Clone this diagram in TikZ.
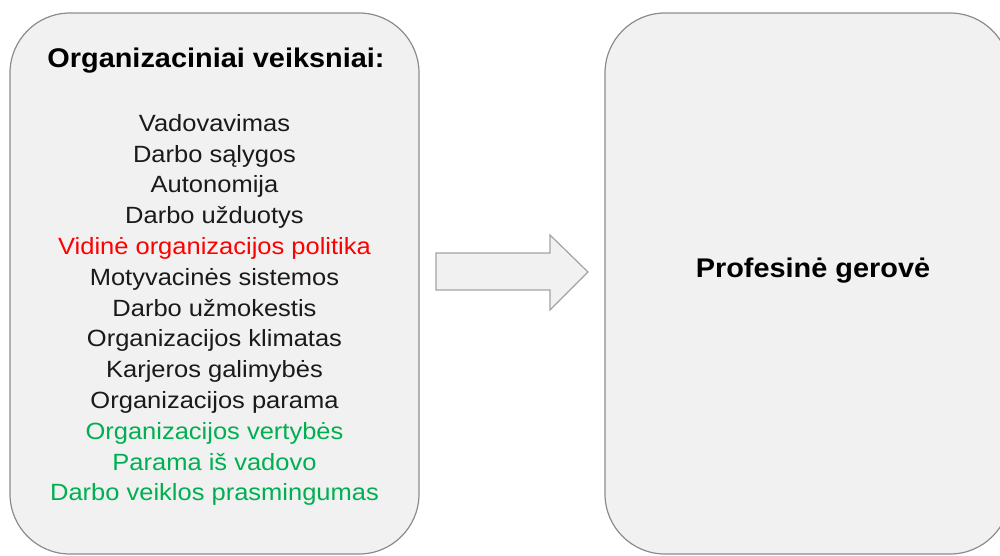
\documentclass[tikz,border=0pt]{standalone}
\usepackage{fontspec}
\setmainfont{Liberation Sans}
\newfontfamily\listfont[FakeStretch=1.085]{Liberation Sans}
\newfontfamily\headfont[FakeStretch=1.07]{Liberation Sans}
\definecolor{boxfill}{HTML}{F1F1F1}
\definecolor{boxline}{HTML}{8C8C8C}
\definecolor{txt}{HTML}{1A1A1A}
\definecolor{redt}{HTML}{FF0000}
\definecolor{greent}{HTML}{00B050}
\begin{document}
\begin{tikzpicture}[x=1pt,y=-1pt,
  panel/.style={draw=boxline,fill=boxfill,line width=1.2pt,rounded corners=60pt},
  arrowshape/.style={draw=boxline!80,fill=boxfill,line width=1.2pt,line join=miter},
  lbl/.style={inner sep=0pt,text=txt,align=center,font=\listfont\fontsize{23.5}{30.8}\selectfont},
  ttl/.style={inner sep=0pt,text=black,font=\headfont\fontsize{27}{30}\selectfont\bfseries}]
\useasboundingbox (0,0) rectangle (1000,555);
\begin{scope}
\clip (0,0) rectangle (1000,555);
\draw[panel] (10,13) rectangle (419,554);
\draw[panel] (605,13) rectangle (1010,554);
\end{scope}
\draw[arrowshape] (436,253) -- (550,253) -- (550,235) -- (588,272) -- (550,310) -- (550,290) -- (436,290) -- cycle;
\node[ttl] (title) at (216,61) {Organizaciniai veiksniai:};
\node[lbl] (list) at (214.5,310) {Vadovavimas\\
Darbo sąlygos\\
Autonomija\\
Darbo užduotys\\
\textcolor{redt}{Vidinė organizacijos politika}\\
Motyvacinės sistemos\\
Darbo užmokestis\\
Organizacijos klimatas\\
Karjeros galimybės\\
Organizacijos parama\\
\textcolor{greent}{Organizacijos vertybės}\\
\textcolor{greent}{Parama iš vadovo}\\
\textcolor{greent}{Darbo veiklos prasmingumas}};
\node[ttl] (result) at (813,271) {Profesinė gerovė};
\end{tikzpicture}
\end{document}
